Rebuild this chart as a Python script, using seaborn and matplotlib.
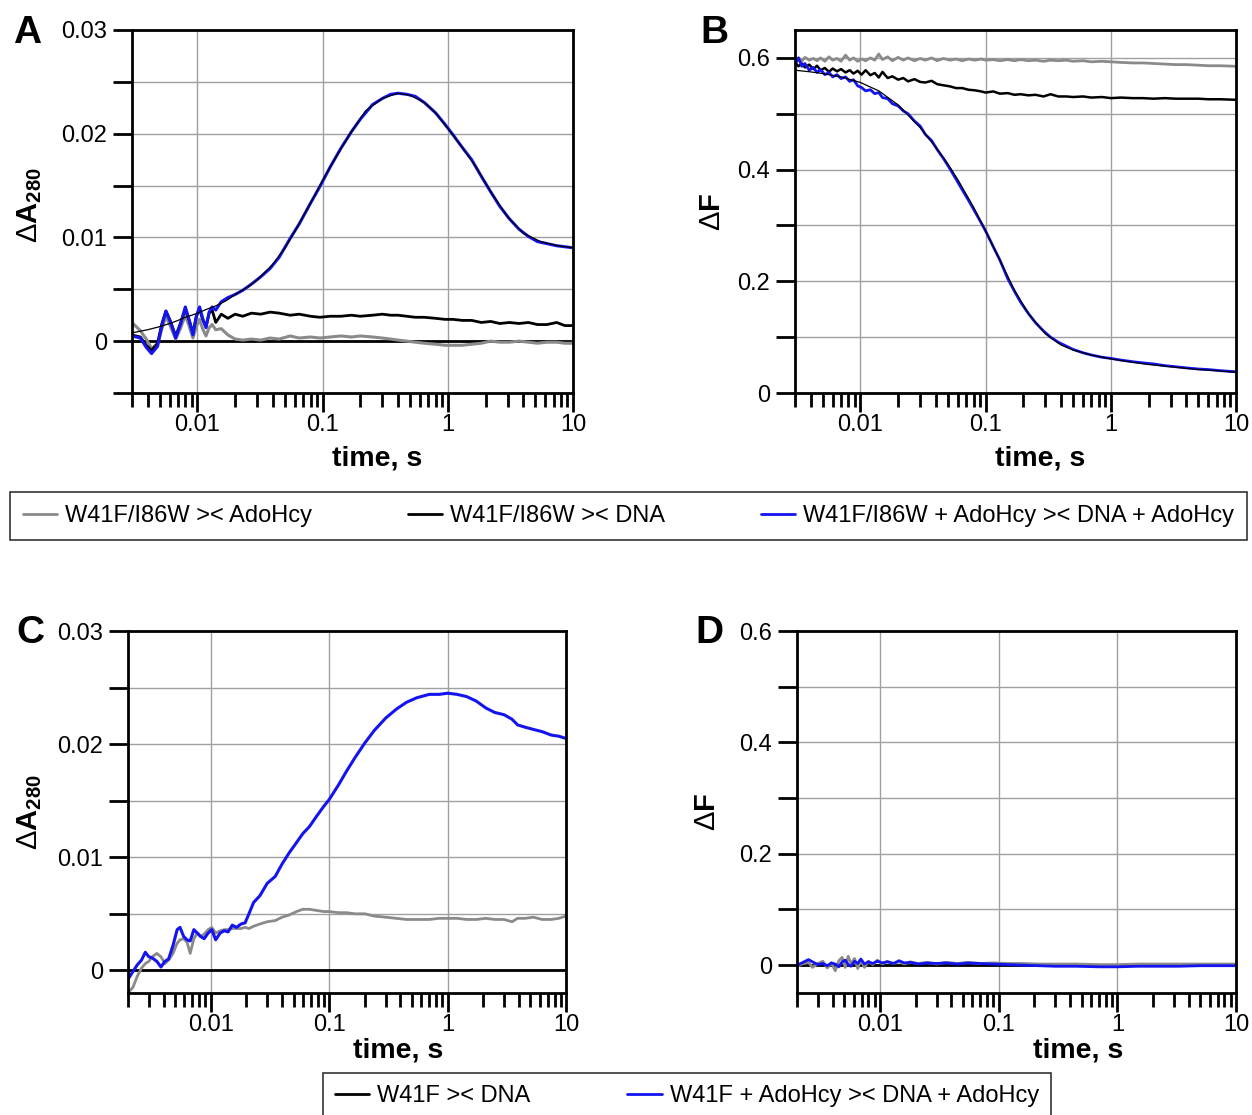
import numpy as np
import matplotlib
matplotlib.use("Agg")
import matplotlib.pyplot as plt
from matplotlib.lines import Line2D
from matplotlib.ticker import LogLocator, NullFormatter
import seaborn as sns

# ---------------- data ----------------
# Panel A (Delta A280, W41F/I86W)
tA = [0.0030, 0.0035, 0.0039, 0.0043, 0.0048, 0.0052, 0.0056, 0.0061, 0.0067, 0.0073,
      0.0080, 0.0086, 0.0092, 0.0098, 0.0104, 0.0110, 0.0117, 0.0124, 0.0131, 0.0140,
      0.0155, 0.0175, 0.020, 0.023, 0.027, 0.032, 0.038, 0.045, 0.055, 0.065,
      0.08, 0.095, 0.115, 0.14, 0.17, 0.2, 0.25, 0.3, 0.35, 0.4,
      0.47, 0.55, 0.65, 0.8, 0.95, 1.1, 1.3, 1.55, 1.85, 2.2,
      2.6, 3.1, 3.7, 4.4, 5.2, 6.2, 7.4, 8.6, 10.0]
a_blue = [0.0005, 0.0003, -0.0006, -0.0012, -0.0005, 0.0015, 0.0029, 0.0018, 0.0003, 0.0016,
          0.0033, 0.0020, 0.0006, 0.0024, 0.0033, 0.0022, 0.0013, 0.0028, 0.0033, 0.0030,
          0.0038, 0.0042, 0.0045, 0.0049, 0.0055, 0.0062, 0.0070, 0.0081, 0.0099, 0.0113,
          0.0133, 0.0149, 0.0168, 0.0186, 0.0202, 0.0214, 0.0228, 0.0234, 0.0238, 0.0239,
          0.0238, 0.0236, 0.0230, 0.0220, 0.0209, 0.0199, 0.0187, 0.0175, 0.0159, 0.0144,
          0.0130, 0.0118, 0.0108, 0.0101, 0.0096, 0.0094, 0.0092, 0.0091, 0.0090]
a_black = [0.0006, 0.0004, -0.0004, -0.0009, -0.0002, 0.0017, 0.0029, 0.0019, 0.0005, 0.0017,
           0.0031, 0.0020, 0.0008, 0.0024, 0.0031, 0.0021, 0.0014, 0.0027, 0.0030, 0.0018,
           0.0026, 0.0022, 0.0026, 0.0024, 0.0027, 0.0026, 0.0028, 0.0027, 0.0025, 0.0026,
           0.0024, 0.0023, 0.0024, 0.0024, 0.0025, 0.0024, 0.0025, 0.0026, 0.0025, 0.0025,
           0.0024, 0.0023, 0.0023, 0.0022, 0.0021, 0.0021, 0.0020, 0.0020, 0.0018, 0.0019,
           0.0017, 0.0018, 0.0017, 0.0018, 0.0016, 0.0016, 0.0018, 0.0015, 0.0015]
a_gray = [0.0018, 0.0010, 0.0002, -0.0007, -0.0003, 0.0012, 0.0024, 0.0014, 0.0002, 0.0012,
          0.0025, 0.0014, 0.0003, 0.0014, 0.0021, 0.0012, 0.0005, 0.0013, 0.0016, 0.0011,
          0.0012, 0.0006, 0.0002, 0.0001, 0.0002, 0.0001, 0.0003, 0.0002, 0.0005, 0.0003,
          0.0004, 0.0003, 0.0004, 0.0005, 0.0004, 0.0005, 0.0004, 0.0003, 0.0002, 0.0001,
          0.0000, -0.0001, -0.0002, -0.0003, -0.0004, -0.0004, -0.0004, -0.0003, -0.0002, 0.0000,
          -0.0001, -0.0001, 0.0000, -0.0001, -0.0002, -0.0001, -0.0001, -0.0002, -0.0002]
tA_fit = [0.003, 0.004, 0.005, 0.006, 0.007, 0.008, 0.009, 0.010, 0.012, 0.014, 0.017, 0.020,
          0.025, 0.03, 0.04, 0.05, 0.06, 0.08, 0.1, 0.13, 0.17, 0.22, 0.3, 0.4, 0.5, 0.65,
          0.8, 1.0, 1.3, 1.7, 2.2, 3.0, 4.0, 5.5, 7.5, 10.0]
a_fit = [0.0008, 0.0011, 0.0014, 0.0017, 0.0020, 0.0023, 0.0025, 0.0027, 0.0031, 0.0034, 0.0039, 0.0045,
         0.0052, 0.0059, 0.0074, 0.0090, 0.0106, 0.0133, 0.0155, 0.0179, 0.0202, 0.0222, 0.0234, 0.0239,
         0.0237, 0.0230, 0.0220, 0.0205, 0.0187, 0.0167, 0.0144, 0.0120, 0.0104, 0.0096, 0.0092, 0.0090]

# Panel B (Delta F, W41F/I86W)
tB = [0.0030, 0.0032, 0.0034, 0.0036, 0.0039, 0.0042, 0.0045, 0.0048, 0.0052, 0.0056,
      0.0060, 0.0065, 0.0070, 0.0076, 0.0082, 0.0088, 0.0095, 0.0102, 0.011, 0.012,
      0.013, 0.014, 0.015, 0.0165, 0.018, 0.020, 0.022, 0.024, 0.027, 0.030,
      0.033, 0.037, 0.041, 0.046, 0.052, 0.058, 0.065, 0.073, 0.082, 0.092,
      0.10, 0.115, 0.13, 0.15, 0.17, 0.19, 0.22, 0.25, 0.29, 0.33,
      0.38, 0.44, 0.5, 0.6, 0.7, 0.85, 1.0, 1.2, 1.5, 1.8,
      2.2, 2.7, 3.3, 4.0, 5.0, 6.0, 7.5, 10.0]
b_blue = [0.588, 0.600, 0.585, 0.590, 0.578, 0.583, 0.574, 0.579, 0.570, 0.574,
          0.566, 0.570, 0.563, 0.566, 0.558, 0.561, 0.550, 0.547, 0.541, 0.543,
          0.536, 0.538, 0.529, 0.527, 0.518, 0.514, 0.505, 0.500, 0.487, 0.478,
          0.463, 0.452, 0.436, 0.420, 0.401, 0.383, 0.364, 0.345, 0.325, 0.305,
          0.290, 0.262, 0.238, 0.205, 0.182, 0.163, 0.142, 0.126, 0.111, 0.100,
          0.091, 0.084, 0.078, 0.072, 0.068, 0.064, 0.062, 0.059, 0.056, 0.054,
          0.052, 0.049, 0.047, 0.045, 0.043, 0.042, 0.040, 0.038]
b_black = [0.592, 0.585, 0.590, 0.583, 0.588, 0.580, 0.586, 0.578, 0.582, 0.575,
           0.581, 0.576, 0.580, 0.574, 0.578, 0.572, 0.577, 0.570, 0.578, 0.569,
           0.573, 0.565, 0.575, 0.564, 0.567, 0.561, 0.564, 0.558, 0.562, 0.557,
           0.556, 0.559, 0.553, 0.551, 0.549, 0.546, 0.546, 0.543, 0.542, 0.540,
           0.538, 0.540, 0.536, 0.537, 0.534, 0.535, 0.533, 0.534, 0.531, 0.535,
           0.531, 0.531, 0.530, 0.531, 0.529, 0.530, 0.528, 0.529, 0.528, 0.528,
           0.527, 0.528, 0.527, 0.527, 0.527, 0.526, 0.526, 0.525]
b_gray = [0.596, 0.600, 0.594, 0.601, 0.596, 0.599, 0.595, 0.600, 0.594, 0.602,
          0.596, 0.599, 0.594, 0.605, 0.596, 0.600, 0.594, 0.598, 0.595, 0.600,
          0.596, 0.607, 0.597, 0.602, 0.595, 0.601, 0.596, 0.600, 0.595, 0.599,
          0.596, 0.600, 0.595, 0.599, 0.596, 0.598, 0.595, 0.598, 0.596, 0.598,
          0.596, 0.597, 0.595, 0.597, 0.595, 0.597, 0.595, 0.596, 0.594, 0.596,
          0.595, 0.596, 0.594, 0.595, 0.593, 0.594, 0.593, 0.592, 0.591, 0.591,
          0.590, 0.589, 0.588, 0.588, 0.587, 0.586, 0.586, 0.585]
tB_fit = [0.003, 0.004, 0.005, 0.007, 0.01, 0.014, 0.02, 0.03, 0.04, 0.05, 0.06, 0.08, 0.1,
          0.13, 0.17, 0.22, 0.3, 0.4, 0.5, 0.7, 1.0, 1.5, 2.0, 3.0, 5.0, 7.0, 10.0]
b_fit = [0.578, 0.575, 0.572, 0.566, 0.556, 0.541, 0.516, 0.475, 0.440, 0.410, 0.382, 0.333, 0.290,
         0.238, 0.184, 0.142, 0.106, 0.086, 0.077, 0.068, 0.061, 0.055, 0.051, 0.047, 0.042, 0.040, 0.037]

# Panel C (Delta A280, W41F)
tC = [0.0020, 0.0022, 0.0024, 0.0026, 0.0028, 0.0030, 0.0032, 0.0035, 0.0038, 0.0041,
      0.0044, 0.0048, 0.0052, 0.0055, 0.0059, 0.0063, 0.0067, 0.0072, 0.0077, 0.0082,
      0.0088, 0.0095, 0.0102, 0.0110, 0.0120, 0.0130, 0.0140, 0.0152, 0.0165, 0.018,
      0.0195, 0.021, 0.023, 0.026, 0.030, 0.035, 0.040, 0.046, 0.053, 0.060,
      0.068, 0.078, 0.09, 0.1, 0.12, 0.14, 0.165, 0.2, 0.24, 0.3,
      0.37, 0.45, 0.55, 0.7, 0.85, 1.0, 1.2, 1.45, 1.75, 2.1,
      2.5, 3.0, 3.5, 3.9, 4.5, 5.3, 6.3, 7.5, 8.7, 10.0]
c_blue = [-0.0008, -0.0001, 0.0005, 0.0009, 0.0016, 0.0012, 0.0011, 0.0008, 0.0003, 0.0008,
          0.0010, 0.0022, 0.0036, 0.0038, 0.0030, 0.0027, 0.0026, 0.0036, 0.0033, 0.0030,
          0.0028, 0.0033, 0.0036, 0.0027, 0.0033, 0.0035, 0.0034, 0.0040, 0.0038, 0.0041,
          0.0042, 0.0050, 0.0060, 0.0066, 0.0077, 0.0083, 0.0094, 0.0104, 0.0113, 0.0121,
          0.0127, 0.0136, 0.0145, 0.0151, 0.0164, 0.0176, 0.0188, 0.0201, 0.0212, 0.0223,
          0.0231, 0.0237, 0.0241, 0.0244, 0.0244, 0.0245, 0.0244, 0.0242, 0.0238, 0.0232,
          0.0228, 0.0226, 0.0222, 0.0217, 0.0215, 0.0213, 0.0211, 0.0208, 0.0207, 0.0205]
c_gray = [-0.0020, -0.0015, -0.0005, 0.0002, 0.0006, 0.0008, 0.0012, 0.0015, 0.0012, 0.0006,
          0.0009, 0.0015, 0.0024, 0.0027, 0.0028, 0.0025, 0.0015, 0.0028, 0.0033, 0.0030,
          0.0032, 0.0036, 0.0038, 0.0033, 0.0035, 0.0036, 0.0036, 0.0037, 0.0037, 0.0037,
          0.0038, 0.0037, 0.0039, 0.0041, 0.0043, 0.0044, 0.0047, 0.0049, 0.0052, 0.0054,
          0.0054, 0.0053, 0.0052, 0.0052, 0.0051, 0.0051, 0.0050, 0.0050, 0.0048, 0.0047,
          0.0046, 0.0045, 0.0045, 0.0045, 0.0046, 0.0046, 0.0046, 0.0045, 0.0045, 0.0046,
          0.0045, 0.0045, 0.0043, 0.0046, 0.0046, 0.0047, 0.0045, 0.0045, 0.0046, 0.0048]

# Panel D (Delta F, W41F)
tD = [0.0020, 0.0022, 0.0025, 0.0027, 0.0030, 0.0033, 0.0036, 0.0039, 0.0042, 0.0045,
      0.0048, 0.0051, 0.0054, 0.0057, 0.0061, 0.0065, 0.0069, 0.0074, 0.0080, 0.0087,
      0.0095, 0.0105, 0.0115, 0.013, 0.0145, 0.016, 0.018, 0.021, 0.025, 0.03,
      0.036, 0.045, 0.055, 0.07, 0.09, 0.12, 0.16, 0.22, 0.3, 0.45,
      0.7, 1.0, 1.5, 2.2, 3.3, 5.0, 7.0, 10.0]
d_blue = [0.000, 0.004, 0.010, 0.006, 0.001, 0.003, -0.001, 0.004, 0.002, -0.003,
          0.006, 0.009, 0.001, -0.002, 0.007, 0.003, 0.011, 0.002, 0.006, 0.003,
          0.007, 0.004, 0.006, 0.003, 0.008, 0.004, 0.005, 0.002, 0.004, 0.003,
          0.004, 0.002, 0.004, 0.003, 0.002, 0.001, 0.000, -0.001, -0.002, -0.002,
          -0.003, -0.003, -0.002, -0.002, -0.002, -0.001, -0.001, -0.001]
d_gray = [-0.002, 0.002, 0.005, -0.004, 0.003, 0.007, -0.005, 0.004, -0.010, 0.008,
          0.014, -0.004, 0.016, 0.002, 0.012, -0.006, 0.009, -0.004, 0.007, 0.001,
          0.009, 0.002, 0.007, 0.003, 0.006, 0.002, 0.006, 0.003, 0.005, 0.002,
          0.005, 0.003, 0.005, 0.003, 0.004, 0.003, 0.003, 0.002, 0.002, 0.002,
          0.001, 0.001, 0.002, 0.002, 0.002, 0.002, 0.002, 0.002]

x_ticks = [0.01, 0.1, 1, 10]
x_tick_labels = ["0.01", "0.1", "1", "10"]
yA_ticks = [0, 0.01, 0.02, 0.03]
yA_tick_labels = ["0", "0.01", "0.02", "0.03"]
yA_minor = [-0.005, 0.005, 0.015, 0.025]
yF_ticks = [0, 0.2, 0.4, 0.6]
yF_tick_labels = ["0", "0.2", "0.4", "0.6"]
yF_minor = [0.1, 0.3, 0.5]

legend1_labels = ["W41F/I86W >< AdoHcy", "W41F/I86W >< DNA", "W41F/I86W + AdoHcy >< DNA + AdoHcy"]
legend2_labels = ["W41F >< DNA", "W41F + AdoHcy >< DNA + AdoHcy"]

# ---------------- style ----------------
sns.set_style("white")
plt.rcParams["font.family"] = ["Liberation Sans", "DejaVu Sans"]
plt.rcParams["mathtext.fontset"] = "custom"
plt.rcParams["mathtext.rm"] = "Liberation Sans"
plt.rcParams["mathtext.it"] = "Liberation Sans:italic"
plt.rcParams["mathtext.bf"] = "Liberation Sans:bold"
for key in ["text.color", "axes.labelcolor", "xtick.color", "ytick.color", "axes.edgecolor"]:
    plt.rcParams[key] = "black"

BLUE = "#1414f0"
GRAY = "#8a8a8a"
BLACK = "#000000"
GRID = "#a0a0a0"

W, H = 1252, 1115
fig = plt.figure(figsize=(W / 100, H / 100), dpi=100)


def fx(px):
    return px / W


def fy(py):
    return 1 - py / H


def make_ax(l, r, t, b):
    return fig.add_axes([fx(l), fy(b), fx(r) - fx(l), (b - t) / H])


axA = make_ax(132, 573, 30, 393)
axB = make_ax(795, 1236, 30, 393)
axC = make_ax(128, 566, 631, 993)
axD = make_ax(797, 1236, 631, 993)


def style_ax(ax, xlim, ylim, yt, ytl, ym):
    ax.set_xscale("log")
    ax.set_xlim(*xlim)
    ax.set_ylim(*ylim)
    ax.set_xticks(x_ticks, labels=x_tick_labels)
    ax.xaxis.set_minor_locator(LogLocator(base=10, subs=(2, 3, 4, 5, 6, 7, 8, 9), numticks=30))
    ax.xaxis.set_minor_formatter(NullFormatter())
    ax.set_yticks(yt, labels=ytl)
    ax.set_yticks(ym, minor=True)
    ax.set_axisbelow(True)
    ax.grid(True, which="major", axis="x", color=GRID, lw=1.0)
    ax.grid(True, which="both", axis="y", color=GRID, lw=1.0)
    ax.tick_params(axis="x", which="major", direction="out", length=14, width=2,
                   labelsize=17, pad=1, bottom=True, top=False, color="black", labelcolor="black")
    ax.tick_params(axis="x", which="minor", direction="out", length=10, width=2,
                   bottom=True, top=False, color="black")
    ax.tick_params(axis="y", which="both", direction="out", length=14, width=2,
                   labelsize=17, pad=4, left=True, right=False, color="black", labelcolor="black")
    for s in ax.spines.values():
        s.set_visible(True)
        s.set_linewidth(2)
        s.set_color("black")
    ax.set_xlabel("")
    ax.set_ylabel("")


def trace(ax, x, y, color, lw):
    sns.lineplot(x=x, y=y, ax=ax, color=color, lw=lw, sort=False, estimator=None)


# Panel A
style_ax(axA, (0.003, 10), (-0.005, 0.03), yA_ticks, yA_tick_labels, yA_minor)
axA.axhline(0, color=BLACK, lw=2, zorder=2)
trace(axA, tA, a_gray, GRAY, 2.2)
trace(axA, tA, a_black, BLACK, 2.0)
trace(axA, tA, a_blue, BLUE, 2.2)
trace(axA, tA_fit, a_fit, BLACK, 0.9)

# Panel B
style_ax(axB, (0.003, 10), (0, 0.65), yF_ticks, yF_tick_labels, yF_minor)
trace(axB, tB, b_gray, GRAY, 2.0)
trace(axB, tB, b_black, BLACK, 1.8)
trace(axB, tB, b_blue, BLUE, 2.0)
trace(axB, tB_fit, b_fit, BLACK, 0.9)

# Panel C
style_ax(axC, (0.002, 10), (-0.002, 0.03), yA_ticks, yA_tick_labels, yA_minor[1:])
axC.axhline(0, color=BLACK, lw=2, zorder=2)
trace(axC, tC, c_gray, GRAY, 2.0)
trace(axC, tC, c_blue, BLUE, 2.2)

# Panel D
style_ax(axD, (0.002, 10), (-0.05, 0.6), yF_ticks, yF_tick_labels, yF_minor)
axD.axhline(0, color=BLACK, lw=2, zorder=2)
trace(axD, tD, d_gray, GRAY, 2.0)
trace(axD, tD, d_blue, BLUE, 2.0)

# panel letters
for letter, (px, py) in zip("ABCD", [(27, 33), (714, 33), (30, 633), (709, 633)]):
    fig.text(fx(px), fy(py), letter, ha="center", va="center", fontsize=28, fontweight="bold")

# axis labels
ylabA = r"$\Delta\mathbf{A}_{\mathbf{280}}$"
ylabF = r"$\Delta\mathbf{F}$"
for (px, py), lab in zip([(30, 205), (712, 212), (30, 812), (707, 812)], [ylabA, ylabF, ylabA, ylabF]):
    fig.text(fx(px), fy(py), lab, ha="center", va="center", rotation=90, fontsize=21)
for px, py in [(377, 458), (1040, 458), (398, 1050), (1078, 1050)]:
    fig.text(fx(px), fy(py), "time, s", ha="center", va="center", fontsize=20.5, fontweight="bold")

# legends
h1 = [Line2D([0], [0], color=GRAY, lw=2), Line2D([0], [0], color=BLACK, lw=2), Line2D([0], [0], color=BLUE, lw=2)]
leg1 = fig.legend(h1, legend1_labels, loc="center", bbox_to_anchor=(fx(10), fy(516), fx(1247) - fx(10), 0),
                  mode="expand", ncol=3, frameon=True, fancybox=False, fontsize=17,
                  handlelength=1.45, handletextpad=0.35, borderpad=0.55, borderaxespad=0)
leg1.get_frame().set_edgecolor("black")
leg1.get_frame().set_linewidth(1.2)

h2 = [Line2D([0], [0], color=BLACK, lw=2), Line2D([0], [0], color=BLUE, lw=2)]
leg2 = fig.legend(h2, legend2_labels, loc="center", bbox_to_anchor=(fx(323), fy(1096), fx(1051) - fx(323), 0),
                  mode="expand", ncol=2, frameon=True, fancybox=False, fontsize=17,
                  handlelength=1.45, handletextpad=0.35, borderpad=0.5, borderaxespad=0)
leg2.get_frame().set_edgecolor("black")
leg2.get_frame().set_linewidth(1.2)

fig.savefig("out.png", dpi=100)
